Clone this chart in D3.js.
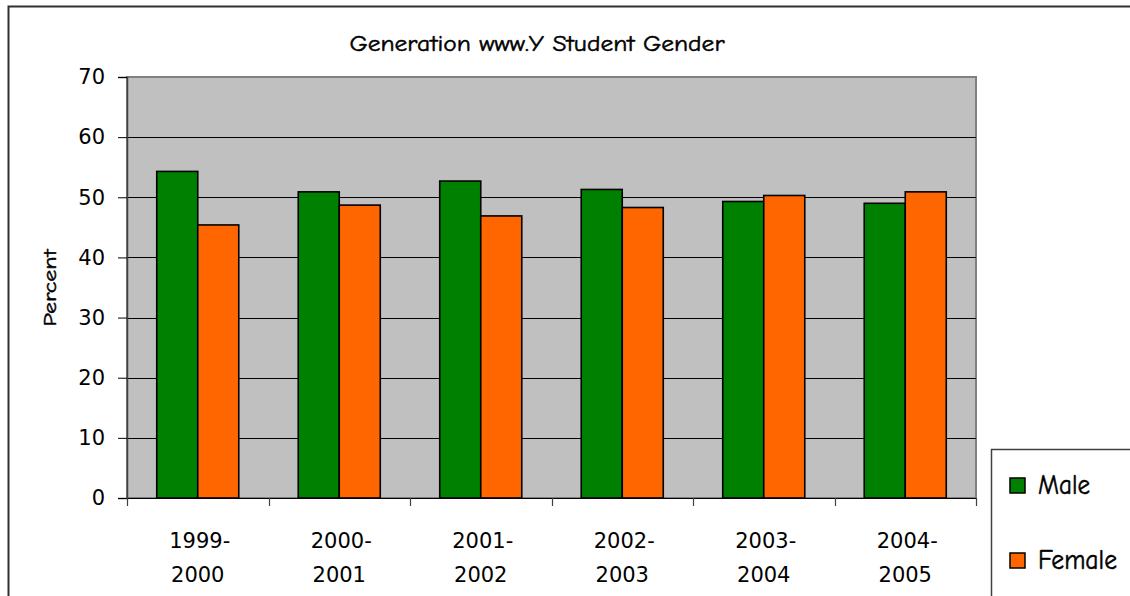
<!DOCTYPE html>
<html>
<head>
<meta charset="utf-8">
<script src="https://cdn.jsdelivr.net/npm/d3@7"></script>
<style>
  body { margin: 0; background: #fff; }
  svg { display: block; }
  text { font-family: "Comic Sans MS", "Comic Neue", "DejaVu Sans", sans-serif; fill: #000; }
  .comic { stroke: #000; stroke-width: 0.5; }
  .num { font-family: "DejaVu Sans", Verdana, sans-serif; }
</style>
</head>
<body>
<div id="chart"></div>
<script>
// data
const years = ["1999-2000", "2000-2001", "2001-2002", "2002-2003", "2003-2004", "2004-2005"];
const series = ["Male", "Female"];
const male = [54.3, 50.9, 52.7, 51.3, 49.3, 49.0];
const female = [45.4, 48.7, 46.9, 48.3, 50.3, 50.9];
const yTicks = [0, 10, 20, 30, 40, 50, 60, 70];
const colors = { Male: "#008000", Female: "#FF6600" };

const W = 1130, H = 596;
const plot = { left: 127, right: 976, top: 77, bottom: 498 };

const rows = years.map((y, i) => ({ year: y, Male: male[i], Female: female[i] }));

const svg = d3.select("#chart").append("svg")
  .attr("width", W).attr("height", H);

// outer chart frame (cropped on right/bottom like the reference)
svg.append("rect")
  .attr("x", 8.5).attr("y", 6.5)
  .attr("width", 1140).attr("height", 620)
  .attr("fill", "#fff").attr("stroke", "#303030").attr("stroke-width", 2);

const x = d3.scaleBand().domain(years).range([plot.left, plot.right]).padding(0);
const gap = 1.45; // excel gap width
const barW = x.bandwidth() / (series.length + gap);
const xs = d3.scaleBand().domain(series)
  .range([barW * gap / 2, barW * gap / 2 + barW * series.length]).padding(0);
const y = d3.scaleLinear().domain([0, 70]).range([plot.bottom, plot.top]);

// plot area
svg.append("rect")
  .attr("x", plot.left).attr("y", plot.top)
  .attr("width", plot.right - plot.left).attr("height", plot.bottom - plot.top)
  .attr("fill", "#C0C0C0").attr("stroke", "#808080").attr("stroke-width", 2);

// gridlines
svg.append("g").selectAll("line")
  .data(yTicks.filter(d => d > 0 && d < 70))
  .join("line")
  .attr("x1", plot.left).attr("x2", plot.right)
  .attr("y1", d => Math.round(y(d)) + 0.5).attr("y2", d => Math.round(y(d)) + 0.5)
  .attr("stroke", "#000").attr("stroke-width", 1);

// bars
const groups = svg.append("g").selectAll("g")
  .data(rows).join("g")
  .attr("transform", d => "translate(" + x(d.year) + ",0)");
groups.selectAll("rect")
  .data(d => series.map(s => ({ key: s, value: d[s] })))
  .join("rect")
  .attr("x", d => xs(d.key))
  .attr("y", d => y(d.value))
  .attr("width", xs.bandwidth())
  .attr("height", d => y(0) - y(d.value))
  .attr("fill", d => colors[d.key])
  .attr("stroke", "#000").attr("stroke-width", 1.6);

// y axis
const yAxis = svg.append("g")
  .attr("transform", "translate(" + plot.left + ",0)")
  .call(d3.axisLeft(y).tickValues(yTicks).tickSize(9).tickPadding(13));
yAxis.select(".domain").attr("stroke", "#404040").attr("stroke-width", 1.5);
yAxis.selectAll(".tick line").attr("stroke", "#000");
yAxis.selectAll("text").attr("class", "num").attr("font-size", 21).attr("fill", "#000");

// x axis line and boundary ticks
svg.append("line")
  .attr("x1", plot.left - 9).attr("x2", plot.right)
  .attr("y1", plot.bottom + 0.5).attr("y2", plot.bottom + 0.5)
  .attr("stroke", "#000");
const bounds = years.map(d => x(d)).concat([plot.right]);
svg.append("g").selectAll("line")
  .data(bounds).join("line")
  .attr("x1", d => Math.round(d) + 0.5).attr("x2", d => Math.round(d) + 0.5)
  .attr("y1", plot.bottom).attr("y2", plot.bottom + 8)
  .attr("stroke", "#404040").attr("stroke-width", 1.2);

// category labels, two lines
const labels = svg.append("g").selectAll("text")
  .data(years).join("text")
  .attr("class", "num")
  .attr("text-anchor", "middle")
  .attr("font-size", 21);
labels.append("tspan")
  .attr("x", d => x(d) + x.bandwidth() / 2 + 2).attr("y", 548)
  .text(d => d.split("-")[0] + "-");
labels.append("tspan")
  .attr("x", d => x(d) + x.bandwidth() / 2).attr("y", 582)
  .text(d => d.split("-")[1]);

// title
svg.append("text")
  .attr("class", "comic")
  .attr("x", 537).attr("y", 51)
  .attr("text-anchor", "middle")
  .attr("font-size", 23)
  .attr("textLength", 375).attr("lengthAdjust", "spacingAndGlyphs")
  .text("Generation www.Y Student Gender");

// y axis title
svg.append("text")
  .attr("class", "comic")
  .attr("transform", "translate(56,288) rotate(-90)")
  .attr("text-anchor", "middle")
  .attr("font-size", 19)
  .attr("textLength", 77).attr("lengthAdjust", "spacingAndGlyphs")
  .text("Percent");

// legend
const legendLen = { Male: 52, Female: 79 };
const legend = svg.append("g");
legend.append("rect")
  .attr("x", 991.5).attr("y", 449.5)
  .attr("width", 200).attr("height", 200)
  .attr("fill", "#fff").attr("stroke", "#404040").attr("stroke-width", 1.5);
const items = legend.selectAll("g.item")
  .data(series).join("g")
  .attr("class", "item")
  .attr("transform", (d, i) => "translate(1010," + (478 + i * 75) + ")");
items.append("rect")
  .attr("width", 15).attr("height", 15)
  .attr("fill", d => colors[d])
  .attr("stroke", "#000").attr("stroke-width", 1.5);
items.append("text")
  .attr("class", "comic")
  .attr("x", 28).attr("y", 16)
  .attr("font-size", 28)
  .attr("textLength", d => legendLen[d]).attr("lengthAdjust", "spacingAndGlyphs")
  .text(d => d);
</script>
</body>
</html>
